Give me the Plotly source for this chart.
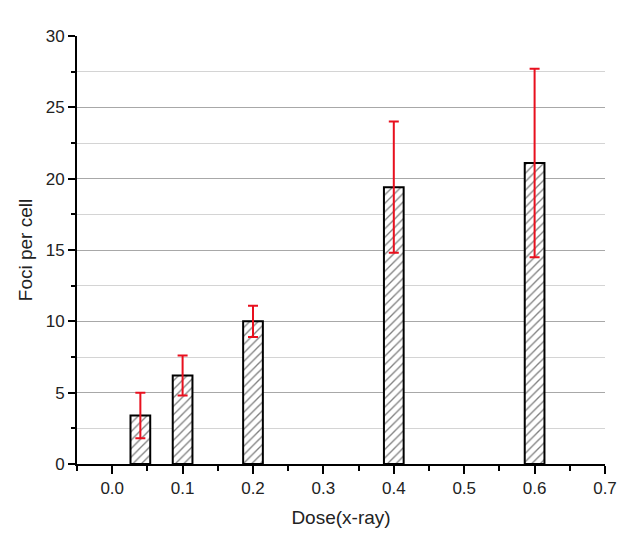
import plotly.graph_objects as go

dose = [0.04, 0.1, 0.2, 0.4, 0.6]
foci = [3.4, 6.2, 10.0, 19.4, 21.1]
foci_err = [1.6, 1.4, 1.1, 4.6, 6.6]

fig = go.Figure()
fig.add_trace(go.Bar(
    x=dose, y=foci, width=0.028,
    marker=dict(color="white", line=dict(color="black", width=2),
                pattern=dict(shape="/", size=6, solidity=0.22,
                             fgcolor="#000000", bgcolor="white")),
    error_y=dict(type="data", array=foci_err, color="#e8101e",
                 thickness=2, width=5),
))

# the page body has an 8px margin, so the figure is a bit smaller than the window
font = "Liberation Sans, Arial, sans-serif"
fig.update_layout(
    width=627, height=535,
    margin=dict(l=69, r=30, t=28, b=79),
    plot_bgcolor="white", paper_bgcolor="white",
    showlegend=False,
    font=dict(family=font, size=17, color="#222222"),
)
fig.update_xaxes(
    range=[-0.05, 0.7], dtick=0.1, tick0=0, tickformat=".1f",
    tickfont=dict(size=17),
    showline=True, linecolor="black", linewidth=2,
    ticks="outside", ticklen=8, tickwidth=2, tickcolor="black",
    minor=dict(dtick=0.05, tick0=0, ticks="outside", ticklen=5,
               tickwidth=2, tickcolor="black"),
    showgrid=False, zeroline=False,
    title=dict(text="Dose(x-ray)", font=dict(size=19), standoff=13),
)
fig.update_yaxes(
    range=[0, 30], dtick=5, tick0=0,
    tickfont=dict(size=17),
    showline=True, linecolor="black", linewidth=2,
    ticks="outside", ticklen=7, tickwidth=2, tickcolor="black",
    showgrid=True, gridcolor="#a8a8a8", gridwidth=1,
    minor=dict(dtick=2.5, tick0=0, ticks="outside", ticklen=4,
               tickwidth=2, tickcolor="black",
               showgrid=True, gridcolor="#d4d4d4", gridwidth=1),
    zeroline=False,
    title=dict(text="Foci per cell", font=dict(size=19), standoff=8),
)

fig.write_html("out.html")
